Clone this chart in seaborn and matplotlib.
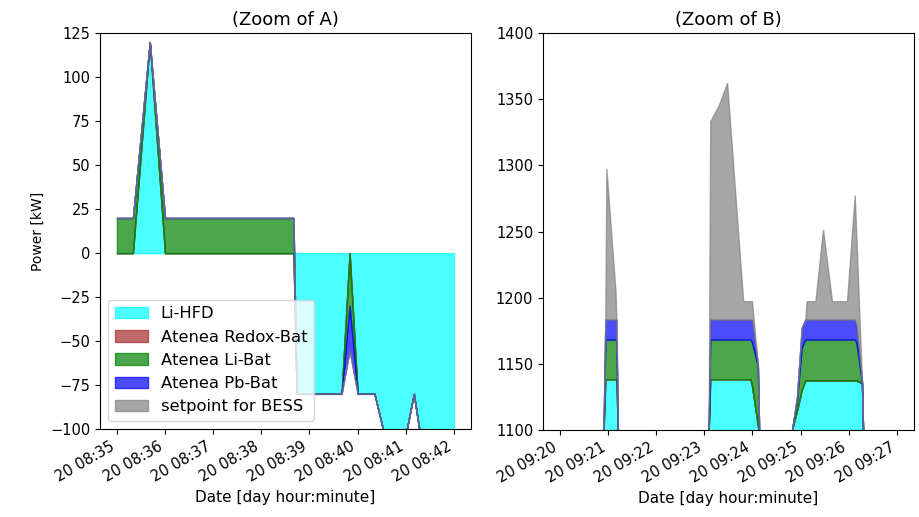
import numpy as np
import pandas as pd
import matplotlib
matplotlib.use("Agg")
import matplotlib.pyplot as plt
import matplotlib.dates as mdates
import seaborn as sns

# ---------------- data: Zoom of A (seconds after 08:35:00) ----------------
start_A = "2019-03-20 08:35:00"
sec_A = [0, 20, 41, 60, 220, 224, 280, 290, 300, 321, 333, 360, 370, 380, 420]
lihfd_A = [0, 0, 120, 0, 0, -80, -80, 0, -80, -80, -103, -103, -80, -110, -110]
redox_A = [0, 0, 0, 0, 0, 0, 0, 0, 0, 0, 0, 0, 0, 0, 0]
libat_A = [20, 20, 0, 20, 20, 0, 0, -30, 0, 0, 0, 0, 0, 0, 0]
pbbat_A = [0, 0, 0, 0, 0, 0, 0, -25, 0, 0, 0, 0, 0, 0, 0]
setpoint_A = [20, 20, 120, 20, 20, -80, -80, -55, -80, -80, -103, -103, -80, -110, -110]

# ---------------- data: Zoom of B (seconds after 09:20:00) ----------------
start_B = "2019-03-20 09:20:00"
sec_B = [0, 53, 55, 57.3, 58.6, 70, 71, 73, 74,
         184, 186, 188, 198.5, 209, 229, 238, 240, 247.3, 249, 250,
         288, 290, 296, 302, 306.5, 308, 319, 328.5, 339.7, 358.4, 368, 370, 377, 378.5, 380,
         420]
lihfd_B = [0, 0, 1097, 1138, 1138, 1138, 1138, 1097, 0,
           0, 1097, 1138, 1138, 1138, 1138, 1138, 1133, 1103, 1097, 0,
           0, 1100, 1114, 1130, 1137, 1137, 1137, 1137, 1137, 1137, 1137, 1137, 1135, 1097, 0,
           0]
redox_B = [0, 0, 0, 0, 0, 0, 0, 0, 0,
           0, 0, 0, 0, 0, 0, 0, 0, 0, 0, 0,
           0, 0, 0, 0, 0, 0, 0, 0, 0, 0, 0, 0, 0, 0, 0,
           0]
libat_B = [0, 0, 0, 30, 30, 30, 30, 0, 0,
           0, 0, 30, 30, 30, 30, 30, 33, 45, 0, 0,
           0, 0, 8, 32, 31, 31, 31, 31, 31, 31, 31, 29, 1, 0, 0,
           0]
pbbat_B = [0, 0, 0, 15, 15, 15, 15, 0, 0,
           0, 0, 15, 15, 15, 15, 15, 17, 1, 0, 0,
           0, 0, 2, 15, 15, 15, 15, 15, 15, 15, 15, 13, 1, 0, 0,
           0]
setpoint_B = [0, 0, 1097, 1183, 1297, 1204, 1183, 1097, 0,
              0, 1097, 1333, 1345, 1362, 1197, 1197, 1197, 1149, 1097, 0,
              0, 1100, 1124, 1177, 1183, 1197, 1197, 1251, 1197, 1197, 1277, 1246, 1137, 1097, 0,
              0]

series_names = ["Li-HFD", "Atenea Redox-Bat", "Atenea Li-Bat", "Atenea Pb-Bat"]
series_colors = ["cyan", "brown", "green", "blue"]
setpoint_name = "setpoint for BESS"
setpoint_color = "gray"

titles = ["(Zoom of A)", "(Zoom of B)"]
xlabel = "Date [day hour:minute]"
ylabel = "Power [kW]"
yticks_A = [-100, -75, -50, -25, 0, 25, 50, 75, 100, 125]
yticks_B = [1100, 1150, 1200, 1250, 1300, 1350, 1400]

# ---------------- style ----------------
sns.set_theme(style="ticks", rc={
    "axes.edgecolor": "black", "axes.linewidth": 0.8,
    "xtick.color": "black", "ytick.color": "black",
    "text.color": "black", "axes.labelcolor": "black",
    "xtick.major.size": 3.5, "ytick.major.size": 3.5,
    "xtick.major.width": 0.8, "ytick.major.width": 0.8,
    "xtick.labelsize": 10.5, "ytick.labelsize": 10.5,
    "axes.labelsize": 11, "axes.titlesize": 13, "legend.fontsize": 11.8,
    "patch.force_edgecolor": False,
})
plt.rcParams["font.family"] = ["DejaVu Sans"]


def make_df(start, secs, cols):
    t = pd.Timestamp(start) + pd.to_timedelta(secs, unit="s")
    df = pd.DataFrame({"time": t})
    for name, vals in cols.items():
        df[name] = vals
    return df


df_A = make_df(start_A, sec_A, {"Li-HFD": lihfd_A, "Atenea Redox-Bat": redox_A,
                                "Atenea Li-Bat": libat_A, "Atenea Pb-Bat": pbbat_A,
                                setpoint_name: setpoint_A})
df_B = make_df(start_B, sec_B, {"Li-HFD": lihfd_B, "Atenea Redox-Bat": redox_B,
                                "Atenea Li-Bat": libat_B, "Atenea Pb-Bat": pbbat_B,
                                setpoint_name: setpoint_B})

fig = plt.figure(figsize=(9.19, 5.17), dpi=100)
ax1 = fig.add_axes([100 / 919, 1 - 429 / 517, 370.8 / 919, (429 - 33.3) / 517])
ax2 = fig.add_axes([543 / 919, 1 - 430 / 517, 370.8 / 919, (430 - 33.2) / 517])


def draw(ax, df):
    t = df["time"].values
    base = np.zeros(len(df))
    for name, col in zip(series_names, series_colors):
        top = base + df[name].values
        ax.fill_between(t, base, top, color=col, alpha=0.7, linewidth=1, label=name)
        base = top
    ax.fill_between(t, base, df[setpoint_name].values, color=setpoint_color,
                    alpha=0.7, linewidth=1, label=setpoint_name)
    ax.xaxis.set_major_locator(mdates.MinuteLocator())
    ax.xaxis.set_major_formatter(mdates.DateFormatter("%d %H:%M"))
    for lab in ax.get_xticklabels():
        lab.set_rotation(30)
        lab.set_ha("right")
    ax.set_xlabel(xlabel)


draw(ax1, df_A)
draw(ax2, df_B)

ax1.set_ylim(-100, 125)
ax1.set_yticks(yticks_A)
ax1.set_ylabel(ylabel, fontsize=10)
ax1.set_title(titles[0])
ax1.legend(loc="lower left")

ax2.set_ylim(1100, 1400)
ax2.set_yticks(yticks_B)
ax2.set_title(titles[1])

for ax in (ax1, ax2):
    for s in ax.spines.values():
        s.set_visible(True)

fig.savefig("out.png", dpi=100)
